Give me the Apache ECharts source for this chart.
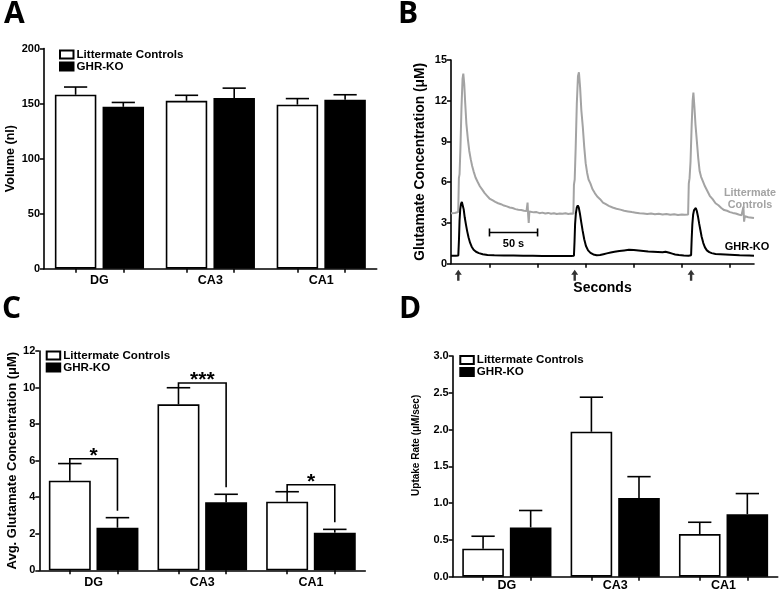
<!DOCTYPE html>
<html><head><meta charset="utf-8">
<script src="https://cdn.jsdelivr.net/npm/echarts@6/dist/echarts.min.js"></script>
<style>html,body{margin:0;padding:0;background:#fff}#c{width:784px;height:595px}</style>
</head><body><div id="c"></div>
<script>
// ---------- data ----------
const categories = ['DG', 'CA3', 'CA1'];
const groupNames = ['Littermate Controls', 'GHR-KO'];

// Panel A: volume (nl)
const volCtrl = [158, 152.5, 149];
const volCtrlSem = [7, 5, 5.5];
const volKO = [147, 155, 153.5];
const volKOSem = [4, 9, 4.5];

// Panel C: avg glutamate concentration (uM)
const glutCtrl = [4.9, 9.08, 3.75];
const glutCtrlSem = [0.94, 0.91, 0.55];
const glutKO = [2.33, 3.72, 2.06];
const glutKOSem = [0.55, 0.44, 0.18];
const sigLevel = [6.1, 10.25, 4.68];
const sigLabels = ['*', '***', '*'];

// Panel D: uptake rate (uM/sec)
const uptakeCtrl = [0.38, 1.97, 0.58];
const uptakeCtrlSem = [0.17, 0.47, 0.16];
const uptakeKO = [0.67, 1.07, 0.85];
const uptakeKOSem = [0.23, 0.29, 0.28];

// Panel B: traces (seconds, uM)
const ctrlTime = [0,2,4,6,7.5,8.2,8.9,9.8,10.9,12.0,12.8,13.8,14.8,16.0,17.5,19.0,20.5,22.0,23.5,25.5,27.5,30,32.5,35,37.5,40,43,46,49,52,55,58,61,64,67,70,73,76,78.5,79.6,80.2,80.8,81.5,83,86,89,92,95,98,101,104,107,110,113,116,119,122,125,127.2,127.8,128.6,129.6,130.8,132.0,133.0,134.2,135.5,137,138.5,140,141.5,143,145,147,149.5,152,155,158,161,164,168,172,176,180,184,188,192,196,200,204,208,212,216,220,224,228,232,236,240,243,246.5,247.2,248.0,249.0,250.2,251.2,252.0,253.0,254.2,255.5,257,258.5,260,262,264,266.5,269,272,275,278,281,284,287,290,293,296,299,302,303.3,304.0,304.7,305.5,307,309,311,313,315];
const ctrlConc = [3.72,3.78,3.74,3.82,3.80,6.3,6.6,8.5,11.5,13.6,14.0,13.2,11.8,10.3,9.2,8.3,7.7,7.2,6.8,6.35,6.05,5.7,5.45,5.2,5.0,4.8,4.68,4.55,4.45,4.38,4.28,4.22,4.14,4.1,4.02,3.98,3.95,3.9,3.88,4.5,3.6,3.0,3.85,3.82,3.78,3.8,3.72,3.76,3.7,3.74,3.68,3.72,3.66,3.7,3.68,3.72,3.66,3.7,3.68,5.8,6.2,8.5,11.8,13.8,14.1,13.0,11.3,10.1,8.6,7.4,6.7,6.2,5.9,5.5,5.2,4.95,4.75,4.5,4.38,4.26,4.14,4.05,3.98,3.9,3.85,3.8,3.76,3.72,3.7,3.66,3.7,3.64,3.68,3.62,3.66,3.6,3.64,3.58,3.62,3.6,3.62,5.9,6.3,7.5,10.2,12.0,12.6,11.6,10.2,9.1,7.8,6.8,6.4,6.05,5.7,5.35,5.0,4.75,4.45,4.3,4.1,3.95,3.9,3.8,3.74,3.7,3.62,3.56,3.5,4.2,3.1,3.5,3.45,3.42,3.4,3.38,3.36];
const koTime = [0,5,7.6,8.3,8.9,9.6,10.4,11.3,12.2,13.2,14.3,15.5,16.8,18.2,19.8,21.5,23.5,26,29,33,38,45,55,65,75,85,95,105,115,125,127.8,128.4,129.0,129.8,130.8,131.8,132.8,134.0,135.3,136.8,138.5,140.3,142.5,145,148,151.5,155,158.5,162,166,170,175,180,185,190,195,200,205,210,215,220,223,225,227,230,233,237,242,247,249.6,250.2,250.9,251.7,252.7,253.7,254.5,255.5,256.7,258,259.2,260.5,262.3,264,266,268.5,271,275,280,290,300,310,315];
const koConc = [0.58,0.58,0.6,1.8,3.2,4.0,4.4,4.55,4.45,4.0,3.4,2.9,2.4,1.95,1.55,1.25,1.03,0.88,0.78,0.7,0.64,0.62,0.6,0.6,0.58,0.58,0.57,0.57,0.56,0.56,0.58,1.6,2.9,3.7,4.15,4.3,4.15,3.7,3.1,2.45,1.8,1.3,0.98,0.8,0.68,0.62,0.64,0.7,0.76,0.82,0.88,0.94,0.98,1.02,1.0,0.97,0.94,0.9,0.88,0.86,0.84,0.88,0.86,0.8,0.74,0.68,0.64,0.6,0.59,0.62,1.8,2.9,3.6,3.95,4.08,4.1,3.9,3.5,2.95,2.5,2.0,1.52,1.2,0.98,0.85,0.78,0.72,0.7,0.66,0.62,0.6,0.58];
const stimTimes = [7.6, 128.6, 249.6];
const traceTickTimes = [40, 90, 140, 190, 240, 290];
const scaleBarStart = 40, scaleBarSeconds = 50, scaleBarLevel = 2.3;
const panelLetters = ['A', 'B', 'C', 'D'];

// ---------- helpers ----------
const FONT = 'Liberation Sans';
const lw = 1.6;
const axisLine = {show: true, lineStyle: {color: '#000', width: lw}};

function barPair(xi, yi, ctrl, ko, bw, gap) {
  const common = {type: 'bar', xAxisIndex: xi, yAxisIndex: yi, barWidth: (bw * 100) + '%', barGap: (gap * 100) + '%', silent: true};
  return [
    Object.assign({}, common, {name: groupNames[0], data: ctrl, itemStyle: {color: '#fff', borderColor: '#000', borderWidth: lw}}),
    Object.assign({}, common, {name: groupNames[1], data: ko, itemStyle: {color: '#000', borderColor: '#000', borderWidth: lw}})
  ];
}
function errSeries(xi, yi, ctrl, ctrlSem, ko, koSem, bw, gap) {
  const data = [];
  ctrl.forEach((v, i) => data.push([i, v, ctrlSem[i], -1]));
  ko.forEach((v, i) => data.push([i, v, koSem[i], 1]));
  return {
    type: 'custom', xAxisIndex: xi, yAxisIndex: yi, z: 5, silent: true, encode: {x: 0, y: 1},
    renderItem(params, api) {
      const W = api.size([1, 0])[0];
      const b = W * bw;
      const off = b * (1 + gap) / 2 * api.value(3);
      const base = api.coord([api.value(0), api.value(1)]);
      const top = api.coord([api.value(0), api.value(1) + api.value(2)]);
      const x = base[0] + off, cap = b * 0.28;
      return {type: 'group', children: [
        {type: 'line', shape: {x1: x, y1: base[1], x2: x, y2: top[1]}, style: {stroke: '#000', lineWidth: lw}},
        {type: 'line', shape: {x1: x - cap, y1: top[1], x2: x + cap, y2: top[1]}, style: {stroke: '#000', lineWidth: lw}}
      ]};
    },
    data
  };
}
function catAxis(gi, margin) {
  return {type: 'category', gridIndex: gi, position: 'bottom', data: categories,
    axisLine, axisTick: {show: false}, splitLine: {show: false},
    axisLabel: {interval: 0, margin, color: '#000', fontFamily: FONT, fontWeight: 'bold', fontSize: 12.5}};
}
function tickAxis(gi, bw, gap) {
  const off = bw * (1 + gap) / 2;
  const vals = [];
  categories.forEach((c, i) => { vals.push(i + 0.5 - off, i + 0.5 + off); });
  return {type: 'value', gridIndex: gi, position: 'bottom', min: 0, max: categories.length,
    axisLine: {show: false}, axisLabel: {show: false}, splitLine: {show: false},
    axisTick: {show: true, length: 4, lineStyle: {color: '#000', width: 1.5}, customValues: vals}};
}
function valAxis(gi, min, max, interval, name, nameGap, nameSize, fmt, namePad) {
  return {type: 'value', gridIndex: gi, min, max, interval, name, nameLocation: 'middle', nameGap, nameRotate: 90,
    nameTextStyle: {color: '#000', fontFamily: FONT, fontWeight: 'bold', fontSize: nameSize, padding: namePad || 0},
    axisLine, axisTick: {show: true, length: 4, lineStyle: {color: '#000', width: 1.5}}, splitLine: {show: false},
    axisLabel: {margin: 4, color: '#000', fontFamily: FONT, fontWeight: 'bold', fontSize: 11, formatter: fmt}};
}
function legendAt(left, top, lh) {
  return {data: groupNames, orient: 'vertical', left, top, icon: 'rect', itemWidth: 13.5, itemHeight: 8, itemGap: 0,
    selectedMode: false, padding: 0,
    textStyle: {color: '#000', fontFamily: FONT, fontWeight: 'bold', fontSize: 11.6, lineHeight: lh, padding: [0, 0, 0, -2]}};
}

const bwA = 0.374, gapA = 0.15, bwC = 0.386, gapC = 0.136, bwD = 0.384, gapD = 0.144;

const option = {
  animation: false,
  backgroundColor: '#fff',
  textStyle: {fontFamily: FONT},
  graphic: panelLetters.map((t, i) => ({
    type: 'text', left: [4, 398, 2, 399][i], top: [-1, -1, 294, 294][i],
    style: {text: t, font: 'bold 30px "Open Sans"', fill: '#000'}
  })),
  grid: [
    {left: 44, top: 48.5, width: 332.7, height: 220.2, outerBoundsMode: 'none', containLabel: false},
    {left: 451, top: 60, width: 303, height: 203.7, outerBoundsMode: 'none', containLabel: false},
    {left: 39.3, top: 351, width: 326, height: 219.3, outerBoundsMode: 'none', containLabel: false},
    {left: 452.7, top: 356, width: 325, height: 220.7, outerBoundsMode: 'none', containLabel: false}
  ],
  legend: [legendAt(59, 48.5, 11.7), legendAt(45.7, 349.5, 10.6), legendAt(459.3, 354, 11.7)],
  xAxis: [
    catAxis(0, 5), tickAxis(0, bwA, gapA),
    {type: 'value', gridIndex: 1, position: 'bottom', min: 0, max: 315, name: 'Seconds', nameLocation: 'middle', nameGap: 17,
      nameTextStyle: {color: '#000', fontFamily: FONT, fontWeight: 'bold', fontSize: 14},
      axisLine, axisLabel: {show: false}, splitLine: {show: false},
      axisTick: {show: true, length: 4, lineStyle: {color: '#000', width: 1.5}, customValues: traceTickTimes}},
    catAxis(2, 5.5), tickAxis(2, bwC, gapC),
    catAxis(3, 2), tickAxis(3, bwD, gapD)
  ],
  yAxis: [
    valAxis(0, 0, 200, 50, 'Volume (nl)', 27, 12.5),
    valAxis(1, 0, 15, 3, 'Glutamate Concentration (\u03bcM)', 24, 13.8),
    valAxis(2, 0, 12, 2, 'Avg. Glutamate Concentration (\u03bcM)', 19.5, 13),
    valAxis(3, 0, 3, 0.5, 'Uptake Rate (\u03bcM/sec)', 31, 10, v => v.toFixed(1), [0, 0, 0, 42])
  ],
  series: [
    ...barPair(0, 0, volCtrl, volKO, bwA, gapA),
    errSeries(0, 0, volCtrl, volCtrlSem, volKO, volKOSem, bwA, gapA),
    {type: 'line', name: 'trace-ctrl', xAxisIndex: 2, yAxisIndex: 1, showSymbol: false, silent: true,
      data: ctrlTime.map((t, i) => [t, ctrlConc[i]]), lineStyle: {color: '#a3a3a3', width: 2}, itemStyle: {color: '#a3a3a3'},
      endLabel: {show: true, formatter: 'Littermate\nControls', color: '#a3a3a3', fontFamily: FONT, fontWeight: 'bold', fontSize: 10.8,
        lineHeight: 12, align: 'center', verticalAlign: 'middle', offset: [-12, -19]}},
    {type: 'line', name: 'trace-ko', xAxisIndex: 2, yAxisIndex: 1, showSymbol: false, silent: true, z: 3,
      data: koTime.map((t, i) => [t, koConc[i]]), lineStyle: {color: '#000', width: 2}, itemStyle: {color: '#000'},
      endLabel: {show: true, formatter: 'GHR-KO', color: '#000', fontFamily: FONT, fontWeight: 'bold', fontSize: 11,
        align: 'center', verticalAlign: 'middle', offset: [-15, -9]}},
    {type: 'scatter', xAxisIndex: 2, yAxisIndex: 1, silent: true, clip: false, z: 10,
      data: stimTimes.map(t => [t, 0]),
      symbol: 'path://M3.5,0 L7,5 L4.7,5 L4.7,11 L2.3,11 L2.3,5 L0,5 Z', symbolSize: [7, 11], symbolOffset: [0, 11.5],
      itemStyle: {color: '#000'}},
    {type: 'custom', xAxisIndex: 2, yAxisIndex: 1, silent: true, encode: {x: [0, 1], y: 2},
      data: [[scaleBarStart, scaleBarStart + scaleBarSeconds, scaleBarLevel]],
      renderItem(params, api) {
        const p0 = api.coord([api.value(0), api.value(2)]);
        const p1 = api.coord([api.value(1), api.value(2)]);
        const st = {stroke: '#000', lineWidth: lw};
        return {type: 'group', children: [
          {type: 'line', shape: {x1: p0[0], y1: p0[1], x2: p1[0], y2: p1[1]}, style: st},
          {type: 'line', shape: {x1: p0[0], y1: p0[1] - 4, x2: p0[0], y2: p0[1] + 4}, style: st},
          {type: 'line', shape: {x1: p1[0], y1: p1[1] - 4, x2: p1[0], y2: p1[1] + 4}, style: st},
          {type: 'text', style: {text: scaleBarSeconds + ' s', x: (p0[0] + p1[0]) / 2, y: p0[1] + 11.5, textAlign: 'center', textVerticalAlign: 'middle',
            font: 'bold 11px "Liberation Sans"', fill: '#000'}}
        ]};
      }},
    ...barPair(3, 2, glutCtrl, glutKO, bwC, gapC),
    errSeries(3, 2, glutCtrl, glutCtrlSem, glutKO, glutKOSem, bwC, gapC),
    {type: 'custom', xAxisIndex: 3, yAxisIndex: 2, silent: true, z: 6, encode: {x: 0, y: 3},
      data: categories.map((c, i) => [i, glutCtrl[i] + glutCtrlSem[i], glutKO[i] + glutKOSem[i], sigLevel[i]]),
      renderItem(params, api) {
        const i = api.value(0);
        const W = api.size([1, 0])[0];
        const off = W * bwC * (1 + gapC) / 2;
        const lev = api.coord([i, api.value(3)]);
        const xL = lev[0] - off, xR = lev[0] + off;
        const yL = api.coord([i, api.value(1)])[1];
        const yR = api.coord([i, api.value(2)])[1] - 7;
        return {type: 'group', children: [
          {type: 'polyline', shape: {points: [[xL, yL], [xL, lev[1]], [xR, lev[1]], [xR, yR]]}, style: {stroke: '#000', lineWidth: lw, fill: null}},
          {type: 'text', style: {text: sigLabels[params.dataIndex], x: (xL + xR) / 2, y: lev[1] - 2.5, textAlign: 'center', textVerticalAlign: 'middle',
            font: 'bold 21px "Liberation Sans"', fill: '#000'}}
        ]};
      }},
    ...barPair(5, 3, uptakeCtrl, uptakeKO, bwD, gapD),
    errSeries(5, 3, uptakeCtrl, uptakeCtrlSem, uptakeKO, uptakeKOSem, bwD, gapD)
  ]
};
const chart = echarts.init(document.getElementById('c'), null, {renderer: 'canvas'});
chart.setOption(option);
</script></body></html>
